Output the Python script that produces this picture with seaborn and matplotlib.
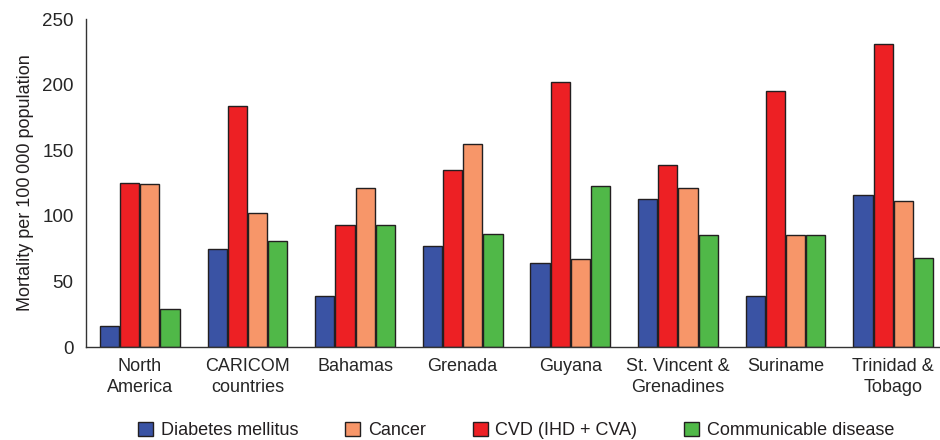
import pandas as pd
import numpy as np
import matplotlib
matplotlib.use('Agg')
import matplotlib.pyplot as plt
from matplotlib.patches import Patch
import seaborn as sns

# ── Data ────────────────────────────────────────────────────
regions = ['North\nAmerica', 'CARICOM\ncountries', 'Bahamas', 'Grenada',
           'Guyana', 'St. Vincent &\nGrenadines', 'Suriname', 'Trinidad &\nTobago']
diabetes      = [16, 75, 39, 77, 64, 113, 39, 116]
cvd           = [125, 184, 93, 135, 202, 139, 195, 231]
cancer        = [124, 102, 121, 155, 67, 121, 85, 111]
communicable  = [29, 81, 93, 86, 123, 85, 85, 68]

causes = ['Diabetes mellitus', 'CVD (IHD + CVA)', 'Cancer', 'Communicable disease']
legend_order = ['Diabetes mellitus', 'Cancer', 'CVD (IHD + CVA)', 'Communicable disease']
palette = {'Diabetes mellitus': '#3A53A4', 'Cancer': '#F79669',
           'CVD (IHD + CVA)': '#ED2024', 'Communicable disease': '#50B848'}

df = pd.DataFrame({
    'region': regions * 4,
    'cause': np.repeat(causes, len(regions)),
    'rate': diabetes + cvd + cancer + communicable,
})

# ── Plot ────────────────────────────────────────────────────
sns.set_style('white')
plt.rcParams['font.family'] = ['Liberation Sans', 'DejaVu Sans']
plt.rcParams['text.color'] = '#231F20'
plt.rcParams['axes.labelcolor'] = '#231F20'

fig = plt.figure(figsize=(9.4, 4.4), dpi=100)
ax = fig.add_axes([86 / 940, 93 / 440, 861 / 940, 328 / 440])

sns.barplot(data=df, x='region', y='rate', hue='cause', hue_order=causes,
            palette=palette, width=0.75, gap=0.05, edgecolor='#231F20',
            linewidth=1.0, saturation=1, ax=ax, legend=False)

ax.set_xlim(-0.5, len(regions) - 0.5)
ax.set_ylim(0, 250)
ax.set_yticks([0, 50, 100, 150, 200, 250])
ax.set_xlabel('')
ax.set_ylabel('Mortality per 100\u2009000 population', fontsize=13, labelpad=6)

sns.despine(ax=ax)
for side in ['left', 'bottom']:
    ax.spines[side].set_color('#333333')
    ax.spines[side].set_linewidth(1.0)

ax.tick_params(axis='y', direction='out', length=6, width=1, color='#333333',
               labelsize=13.5, pad=3)
ax.tick_params(axis='x', which='major', length=0, labelsize=13, pad=8)
for lbl in ax.get_xticklabels():
    lbl.set_linespacing(1.3)
ax.set_xticks(np.arange(-0.5, len(regions) - 0.5, 1.0), minor=True)
ax.tick_params(axis='x', which='minor', direction='out', length=8, width=1,
               color='#333333')

handles = [Patch(facecolor=palette[c], edgecolor='#231F20', linewidth=1.0, label=c)
           for c in legend_order]
fig.legend(handles=handles, loc='lower center', ncol=4, frameon=False,
           fontsize=13, bbox_to_anchor=(0.549, -0.035), handlelength=0.85,
           handleheight=0.85, handletextpad=0.4, columnspacing=2.6)

fig.savefig('out.png', dpi=100)
